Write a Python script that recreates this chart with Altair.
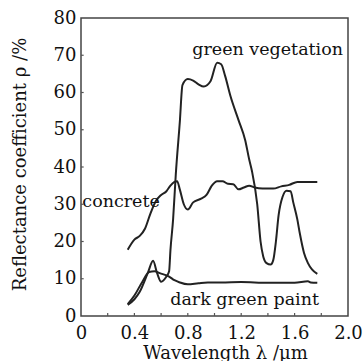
import altair as alt
import pandas as pd

# green vegetation
veg_x = [0.35, 0.40, 0.44, 0.50, 0.54, 0.57, 0.60, 0.64, 0.66, 0.67, 0.69, 0.71, 0.74, 0.76,
         0.80, 0.84, 0.88, 0.92, 0.97, 1.02, 1.05, 1.08, 1.12, 1.18, 1.23, 1.26, 1.28, 1.32,
         1.345, 1.365, 1.39, 1.42, 1.44, 1.46, 1.48, 1.51, 1.54, 1.57, 1.59, 1.62, 1.64,
         1.67, 1.70, 1.73, 1.77]
veg_y = [3.0, 4.5, 6.5, 11.5, 14.8, 11.5, 9.2, 10.6, 12.0, 17.7, 26.0, 38.0, 52.0, 62.0,
         63.6, 63.2, 62.2, 61.6, 63.0, 68.0, 67.6, 64.4, 59.0, 52.6, 47.2, 42.0, 39.0, 30.0,
         20.0, 16.0, 14.2, 13.8, 15.0, 20.0, 27.0, 32.0, 33.6, 33.5, 30.5, 26.0, 22.0,
         17.0, 14.2, 12.5, 11.3]

# dark green paint
paint_x = [0.35, 0.40, 0.46, 0.51, 0.55, 0.59, 0.66, 0.70, 0.74, 0.80, 0.88, 0.95, 1.05,
           1.20, 1.40, 1.60, 1.70, 1.72, 1.77]
paint_y = [3.2, 5.5, 9.2, 11.8, 12.0, 11.5, 10.6, 9.6, 9.0, 8.5, 8.8, 9.0, 9.0,
           9.1, 8.9, 8.9, 9.3, 9.0, 8.9]

# concrete
conc_x = [0.35, 0.40, 0.44, 0.48, 0.52, 0.56, 0.60, 0.64, 0.67, 0.70, 0.72, 0.74, 0.77,
          0.80, 0.84, 0.90, 0.94, 0.98, 1.02, 1.06, 1.10, 1.14, 1.18, 1.22, 1.26, 1.30,
          1.36, 1.44, 1.50, 1.56, 1.62, 1.70, 1.77]
conc_y = [17.8, 20.5, 21.5, 23.5, 27.5, 30.8, 32.5, 33.5, 35.0, 36.0, 36.2, 34.0, 30.0,
          28.6, 30.5, 31.5, 32.5, 35.0, 36.2, 36.2, 35.5, 35.4, 34.0, 34.5, 35.0, 34.5,
          34.2, 34.2, 34.8, 35.2, 36.0, 36.0, 36.0]

x_ticks = [0, 0.4, 0.8, 1.2, 1.6, 2.0]
y_ticks = [0, 10, 20, 30, 40, 50, 60, 70, 80]
x_minor = [0.2, 0.4, 0.6, 0.8, 1.0, 1.2, 1.4, 1.6, 1.8]
y_minor = [10, 20, 30, 40, 50, 60, 70]

label_text = ["green vegetation", "concrete", "dark green paint"]
label_x = [0.833, 0.01, 0.668]
label_y = [70.2, 29.3, 2.95]

rows = []
for name, xs, ys in [("veg", veg_x, veg_y), ("paint", paint_x, paint_y), ("conc", conc_x, conc_y)]:
    for i, (a, b) in enumerate(zip(xs, ys)):
        rows.append({"series": name, "wl": a, "r": b, "i": i})
df = pd.DataFrame(rows)
lab = pd.DataFrame({"t": label_text, "wl": label_x, "r": label_y})
xt = pd.DataFrame({"wl": x_minor, "r0": [0] * len(x_minor), "r1": [0.8] * len(x_minor)})
yt = pd.DataFrame({"r": y_minor, "w0": [0] * len(y_minor), "w1": [0.02] * len(y_minor)})

FONT = "DejaVu Serif"

xscale = alt.Scale(domain=[0, 2.0], nice=False)
yscale = alt.Scale(domain=[0, 80], nice=False)

xaxis = alt.Axis(values=x_ticks,
                 labelExpr="datum.value == 0 ? '0' : format(datum.value, '.1f')",
                 title="Wavelength λ /μm", grid=False, ticks=False, domain=False,
                 labelPadding=8, titleX=144, titleY=42, titleBaseline="alphabetic",
                 labelFlush=False, labelOverlap=False)
yaxis = alt.Axis(values=y_ticks, title="Reflectance coefficient ρ /%",
                 grid=False, ticks=False, domain=False, labelPadding=5,
                 titleX=-52, titleY=146, labelOverlap=False, labelFlush=False)

X = lambda f: alt.X(f, scale=xscale, axis=xaxis)
Y = lambda f: alt.Y(f, scale=yscale, axis=yaxis)

lines = alt.Chart(df).mark_line(color="#222222", strokeWidth=2, interpolate="monotone").encode(
    x=X("wl:Q"), y=Y("r:Q"), detail="series:N", order="i:Q",
)

texts = alt.Chart(lab).mark_text(font=FONT, fontSize=17.5, align="left",
                                 baseline="alphabetic", color="#111111").encode(
    x=X("wl:Q"), y=Y("r:Q"), text="t:N",
)

xticks = alt.Chart(xt).mark_rule(color="#555555", strokeWidth=1.2).encode(
    x=X("wl:Q"), y=Y("r0:Q"), y2="r1:Q",
)
yticks = alt.Chart(yt).mark_rule(color="#555555", strokeWidth=1.2).encode(
    y=Y("r:Q"), x=X("w0:Q"), x2="w1:Q",
)

chart = alt.layer(lines, texts, xticks, yticks).properties(
    width=267, height=298,
    background="white",
    autosize=alt.AutoSizeParams(type="none"),
    padding={"left": 81, "top": 18, "right": 15, "bottom": 45},
).configure_view(
    stroke="#444444", strokeWidth=1.5
).configure_axis(
    labelFont=FONT, titleFont=FONT, labelFontSize=18, titleFontSize=18,
    labelColor="#111111", titleColor="#111111", titleFontWeight="normal",
    labelOverlap=False,
)

chart.save("out.html", embed_options={"renderer": "svg", "actions": False})
